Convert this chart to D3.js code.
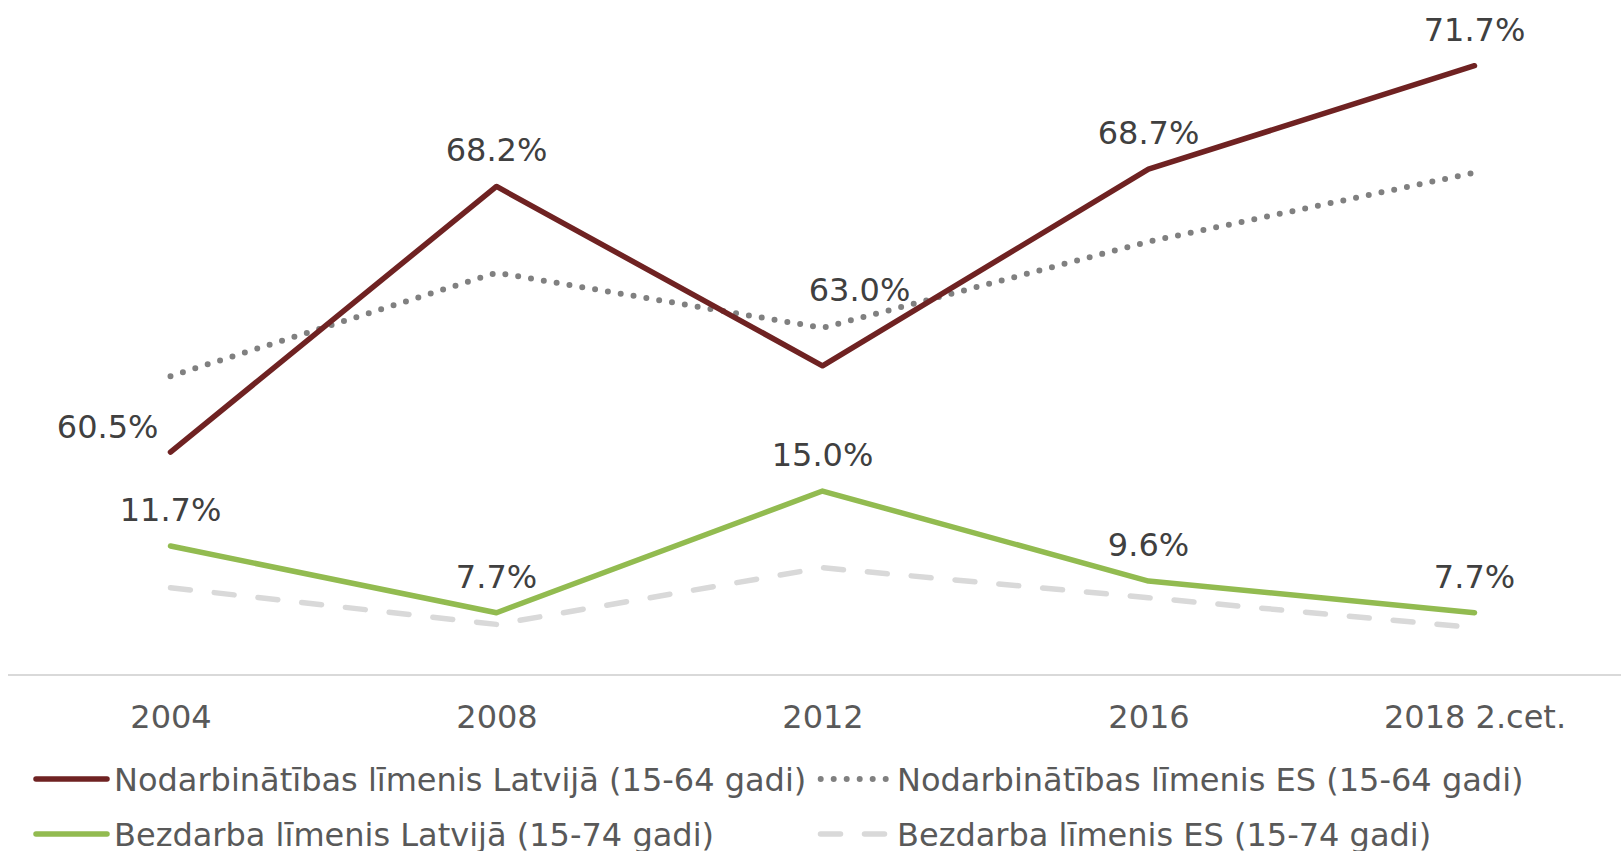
<!DOCTYPE html>
<html>
<head>
<meta charset="utf-8">
<script src="https://cdn.jsdelivr.net/npm/d3@7/dist/d3.min.js"></script>
<style>
  html, body { margin: 0; padding: 0; background: #ffffff; }
  svg { display: block; }
  text { font-family: "DejaVu Sans", Verdana, sans-serif; }
</style>
</head>
<body>
<svg id="chart" width="1621" height="851"></svg>
<script>
// ---- data ----
const categories = ["2004", "2008", "2012", "2016", "2018 2.cet."];
const empLV = [60.5, 68.2, 63.0, 68.7, 71.7];
const empEU = [62.7, 65.7, 64.1, 66.6, 68.6];
const unempLV = [11.7, 7.7, 15.0, 9.6, 7.7];
const unempEU = [9.2, 7.0, 10.4, 8.6, 6.8];
const empLVLabelPos = ["left", "above", "aboveRight", "above", "above"];
const unempLVLabelPos = ["above", "above", "above", "above", "above"];
const legendNames = [
  "Nodarbinātības līmenis Latvijā (15-64 gadi)",
  "Nodarbinātības līmenis ES (15-64 gadi)",
  "Bezdarba līmenis Latvijā (15-74 gadi)",
  "Bezdarba līmenis ES (15-74 gadi)"
];

// ---- styles ----
const C_EMP_LV = "#6f2222";
const C_EMP_EU = "#808080";
const C_UN_LV = "#92bb50";
const C_UN_EU = "#d9d9d9";
const FONT = 32;

const svg = d3.select("#chart");

const x = d3.scalePoint().domain(categories).range([170.5, 1474.5]);
const yEmp = d3.scaleLinear().domain([54, 74]).range([676.2, -13.6]);
const yUn = d3.scaleLinear().domain([4, 44]).range([674.4, 7.6]);

const styles = {
  empLV: { color: C_EMP_LV, width: 5.5, dash: null },
  empEU: { color: C_EMP_EU, width: 6, dash: "0,13" },
  unLV:  { color: C_UN_LV, width: 5.5, dash: null },
  unEU:  { color: C_UN_EU, width: 5.5, dash: "20,24" }
};

// x axis
const xAxis = d3.axisBottom(x).tickSize(0).tickPadding(20);
const gx = svg.append("g").attr("transform", "translate(0,675)").call(xAxis);
gx.select(".domain").remove();
gx.append("line").attr("x1", 8).attr("x2", 1621).attr("y1", 0).attr("y2", 0)
  .attr("stroke", "#d9d9d9").attr("stroke-width", 2);
gx.selectAll(".tick text")
  .attr("font-size", FONT).attr("fill", "#595959")
  .attr("font-family", "DejaVu Sans, Verdana, sans-serif")
  .attr("dy", null).attr("y", 53);

function drawLine(values, yScale, st) {
  const line = d3.line().x((d, i) => x(categories[i])).y(d => yScale(d));
  const p = svg.append("path").datum(values).attr("d", line)
    .attr("fill", "none").attr("stroke", st.color).attr("stroke-width", st.width)
    .attr("stroke-linecap", "round").attr("stroke-linejoin", "round");
  if (st.dash) p.attr("stroke-dasharray", st.dash);
}

drawLine(unempEU, yUn, styles.unEU);
drawLine(empEU, yEmp, styles.empEU);
drawLine(unempLV, yUn, styles.unLV);
drawLine(empLV, yEmp, styles.empLV);

const fmt = d => d.toFixed(1) + "%";
function labelOffset(pos) {
  if (pos === "left") return { dx: -12, dy: -14, anchor: "end" };
  if (pos === "aboveRight") return { dx: 37, dy: -65, anchor: "middle" };
  return { dx: 0, dy: -25, anchor: "middle" };
}
function drawLabels(values, yScale, positions) {
  svg.append("g").selectAll("text").data(values).join("text")
    .attr("x", (d, i) => x(categories[i]) + labelOffset(positions[i]).dx)
    .attr("y", (d, i) => yScale(d) + labelOffset(positions[i]).dy)
    .attr("text-anchor", (d, i) => labelOffset(positions[i]).anchor)
    .attr("font-size", FONT).attr("fill", "#404040")
    .text(fmt);
}
drawLabels(empLV, yEmp, empLVLabelPos);
drawLabels(unempLV, yUn, unempLVLabelPos);

// legend
const legendItems = [
  { name: legendNames[0], st: styles.empLV, x0: 36, x1: 107, tx: 114, y: 779 },
  { name: legendNames[1], st: styles.empEU, x0: 820.7, x1: 886, tx: 897, y: 779 },
  { name: legendNames[2], st: styles.unLV, x0: 36, x1: 107, tx: 114, y: 834 },
  { name: legendNames[3], st: styles.unEU, x0: 820.5, x1: 884.5, tx: 897, y: 834 }
];
const lg = svg.append("g").selectAll("g").data(legendItems).join("g");
lg.append("line")
  .attr("x1", d => d.x0).attr("x2", d => d.x1).attr("y1", d => d.y).attr("y2", d => d.y)
  .attr("stroke", d => d.st.color).attr("stroke-width", d => d.st.width)
  .attr("stroke-linecap", "round")
  .attr("stroke-dasharray", d => d.st.dash);
lg.append("text")
  .attr("x", d => d.tx).attr("y", d => d.y + 11.5)
  .attr("font-size", FONT).attr("fill", "#595959")
  .text(d => d.name);
</script>
</body>
</html>
